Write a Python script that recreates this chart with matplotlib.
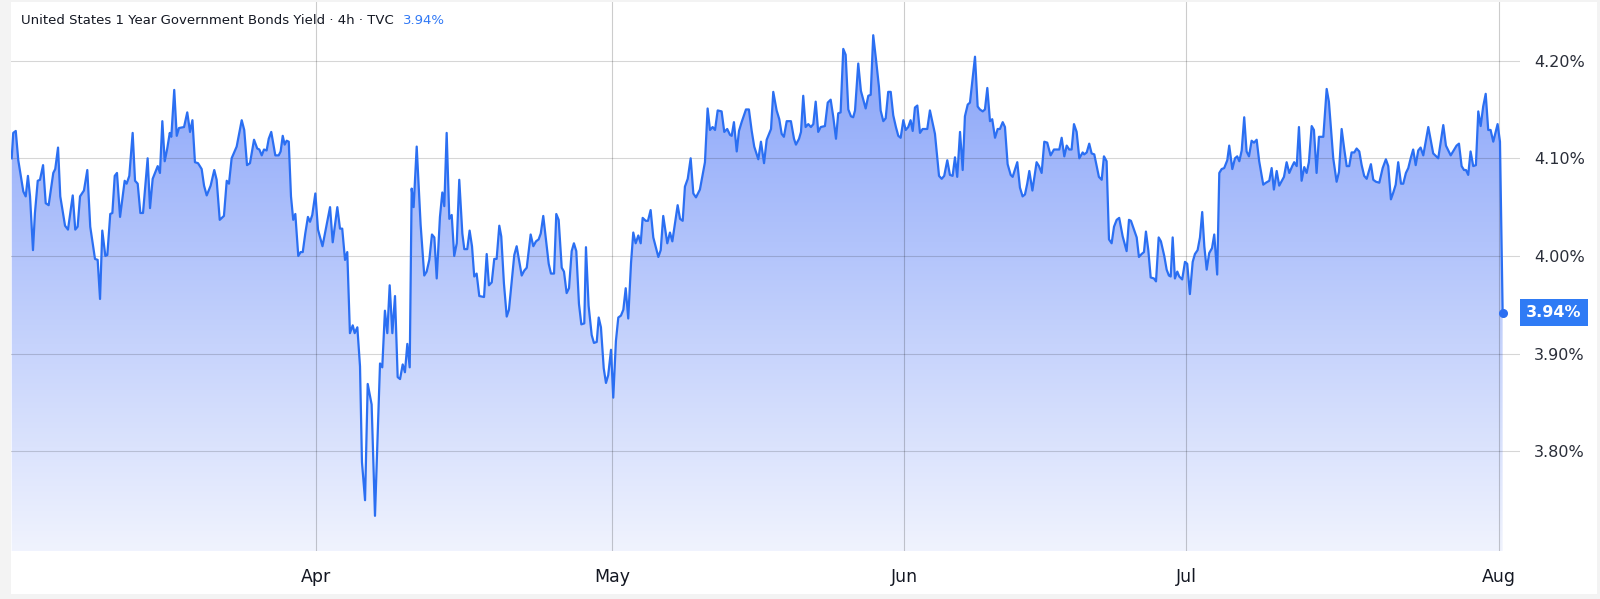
import numpy as np
import matplotlib.pyplot as plt
from matplotlib.colors import LinearSegmentedColormap
from matplotlib.patches import Rectangle

# trading days since the start of the window (4h bars)
t_days = [
    0.05, 0.16, 0.34, 0.52, 0.88, 1.05, 1.21, 1.36, 1.57, 1.71,
    1.91, 2.07, 2.29, 2.48, 2.69, 3.02, 3.16, 3.36, 3.52, 3.86,
    4.07, 4.41, 4.59, 4.76, 4.93, 5.21, 5.45, 5.66, 6.00, 6.19,
    6.36, 6.52, 6.74, 6.88, 7.09, 7.24, 7.41, 7.57, 7.79, 8.12,
    8.26, 8.45, 8.69, 8.86, 9.05, 9.24, 9.43, 9.76, 9.93, 10.12,
    10.31, 10.48, 10.64, 10.81, 10.98, 11.16, 11.34, 11.45, 11.66, 11.84,
    12.00, 12.36, 12.59, 12.79, 12.96, 13.14, 13.36, 13.62, 13.79, 13.98,
    14.26, 14.52, 14.69, 14.91, 15.21, 15.41, 15.57, 15.76, 16.12, 16.48,
    16.66, 16.86, 17.07, 17.36, 17.59, 17.74, 17.91, 18.07, 18.26, 18.41,
    18.59, 18.88, 19.12, 19.26, 19.41, 19.55, 19.69, 19.84, 20.00, 20.16,
    20.31, 20.52, 20.69, 20.84, 21.02, 21.21, 21.36, 21.52, 21.74, 21.93,
    22.25, 22.79, 22.98, 23.31, 23.50, 23.66, 23.86, 24.02, 24.21, 24.41,
    24.55, 24.74, 24.93, 25.07, 25.29, 25.48, 25.76, 26.00, 26.36, 26.52,
    26.71, 26.88, 27.05, 27.24, 27.43, 27.62, 27.79, 27.98, 28.14, 28.31,
    28.48, 28.62, 28.76, 28.98, 29.26, 29.52, 29.69, 29.88, 30.07, 30.24,
    30.41, 30.64, 30.81, 30.95, 31.12, 31.31, 31.48, 31.66, 31.84, 32.02,
    32.24, 32.38, 32.59, 32.76, 32.93, 33.09, 33.26, 33.45, 33.79, 33.98,
    34.14, 34.34, 34.52, 34.69, 34.88, 35.02, 35.21, 35.41, 35.57, 35.95,
    36.12, 36.48, 36.66, 36.84, 37.12, 37.31, 37.50, 37.69, 37.84, 38.02,
    38.21, 38.41, 38.57, 38.79, 38.95, 39.12, 39.34, 39.50, 39.69, 39.86,
    40.05, 40.21, 40.38, 40.57, 40.74, 40.95, 41.07, 41.26, 41.48, 41.64,
    41.84, 41.98, 42.14, 42.34, 42.50, 42.66, 42.86, 43.02, 43.21, 43.38,
    43.57, 43.74, 43.91, 44.09, 44.29, 44.45, 44.62, 44.81, 44.98, 45.12,
    45.34, 45.50, 45.69, 45.88, 46.24, 46.41, 46.59, 46.88, 47.07, 47.24,
    47.62, 47.79, 47.98, 48.14, 48.34, 48.55, 48.74, 48.93, 49.21, 49.57,
    49.76, 49.93, 50.12, 50.29, 50.48, 50.76, 50.95, 51.16, 51.36, 51.48,
    51.64, 51.84, 52.00, 52.19, 52.50, 52.71, 52.91, 53.09, 53.38, 53.57,
    53.79, 53.98, 54.29, 54.45, 54.69, 54.88, 55.05, 55.21, 55.41, 55.71,
    55.93, 56.07, 56.29, 56.43, 56.59, 56.76, 56.95, 57.14, 57.31, 57.48,
    57.66, 57.84, 58.14, 58.34, 58.55, 58.74, 58.93, 59.09, 59.26, 59.45,
    59.62, 59.81, 60.00, 60.16, 60.29, 60.52, 60.71, 61.05, 61.24, 61.41,
    61.59, 61.79, 62.00, 62.12, 62.31, 62.48, 62.66, 62.84, 63.02, 63.21,
    63.38, 63.55, 63.74, 63.91, 64.09, 64.26, 64.41, 64.57, 64.74, 64.93,
    65.12, 65.45, 65.64, 66.00, 66.29, 66.48, 66.66, 66.88, 67.07, 67.26,
    67.43, 67.59, 67.79, 67.98, 68.14, 68.34, 68.50, 68.66, 68.86, 69.05,
    69.21, 69.41, 69.57, 69.74, 69.93, 70.09, 70.29, 70.48, 70.64, 70.84,
    71.00, 71.19, 71.41, 71.55, 71.88, 72.07, 72.26, 72.43, 72.59, 72.74,
    72.96, 73.26, 73.43, 73.62, 73.81, 74.02, 74.26, 74.50, 74.88, 75.05,
    75.24, 75.41, 75.59, 75.76, 75.93, 76.12, 76.31, 76.55, 76.66, 76.84,
    77.02, 77.19, 77.38, 77.55, 77.71, 77.91, 78.07, 78.26, 78.43, 78.62,
    78.79, 78.98, 79.16, 79.41, 79.69, 79.86, 80.00, 80.41, 80.57, 80.76,
    80.93, 81.07, 81.24, 81.41, 81.64, 81.79, 81.98, 82.14, 82.38, 82.55,
    82.71, 82.84, 82.98, 83.14, 83.31, 83.45, 83.66, 83.86, 84.02, 84.21,
    84.41, 84.57, 84.76, 84.93, 85.09, 85.24, 85.41, 85.59, 85.79, 85.95,
    86.16, 86.31, 86.48, 86.66, 86.88, 87.02, 87.24, 87.43, 87.59, 87.74,
    87.91, 88.09, 88.26, 88.43, 88.62, 88.79, 88.98, 89.16, 89.45, 89.64,
    89.88, 90.05, 90.21, 90.41, 90.59, 90.93, 91.12, 91.31, 91.52, 91.66,
    91.84, 92.00, 92.19, 92.38, 92.55, 92.71, 92.91, 93.07, 93.26, 93.43,
    93.74, 93.98, 94.14, 94.45, 94.69, 94.86, 95.05, 95.24, 95.41, 95.59,
    95.76, 95.95, 96.12, 96.31, 96.48, 96.66, 96.84, 97.14, 97.31, 97.50,
    97.74, 97.98, 98.21, 98.38, 98.57, 98.74, 98.91, 99.09, 99.29, 99.45,
    99.64, 99.81, 99.98, 100.16, 100.34, 100.52, 100.69, 100.88, 101.24, 101.59,
    101.95, 102.31, 102.50, 102.84, 103.26, 103.43, 103.62, 103.79, 103.93, 104.09,
    104.26, 104.45, 104.64, 104.81, 104.98, 105.16, 105.34, 105.52, 105.69, 105.88,
    106.05, 106.19, 106.36, 106.55,
]

# 1Y yield in percent
yield_pct = [
    4.100, 4.126, 4.128, 4.098, 4.066, 4.061, 4.082, 4.061, 4.006, 4.044,
    4.077, 4.078, 4.093, 4.054, 4.052, 4.085, 4.089, 4.111, 4.061, 4.031,
    4.027, 4.062, 4.027, 4.030, 4.061, 4.067, 4.088, 4.030, 3.997, 3.996,
    3.956, 4.026, 4.000, 4.001, 4.043, 4.044, 4.082, 4.085, 4.040, 4.077,
    4.074, 4.082, 4.126, 4.077, 4.074, 4.044, 4.044, 4.100, 4.049, 4.079,
    4.086, 4.092, 4.085, 4.138, 4.097, 4.110, 4.126, 4.122, 4.170, 4.123,
    4.131, 4.132, 4.147, 4.127, 4.139, 4.096, 4.095, 4.089, 4.072, 4.062,
    4.072, 4.088, 4.078, 4.037, 4.041, 4.077, 4.074, 4.100, 4.112, 4.139,
    4.129, 4.093, 4.095, 4.119, 4.110, 4.109, 4.103, 4.109, 4.108, 4.120,
    4.127, 4.103, 4.103, 4.107, 4.123, 4.114, 4.118, 4.117, 4.061, 4.037,
    4.043, 4.000, 4.004, 4.004, 4.023, 4.040, 4.035, 4.042, 4.064, 4.027,
    4.010, 4.050, 4.014, 4.050, 4.028, 4.028, 3.996, 4.004, 3.921, 3.929,
    3.921, 3.927, 3.887, 3.789, 3.750, 3.869, 3.848, 3.734, 3.890, 3.886,
    3.944, 3.921, 3.970, 3.921, 3.959, 3.876, 3.874, 3.889, 3.881, 3.910,
    3.886, 4.069, 4.050, 4.112, 4.032, 3.980, 3.984, 3.996, 4.022, 4.019,
    3.977, 4.040, 4.065, 4.051, 4.126, 4.038, 4.042, 4.000, 4.013, 4.078,
    4.023, 4.007, 4.007, 4.026, 4.010, 3.979, 3.982, 3.959, 3.958, 4.002,
    3.970, 3.973, 3.997, 3.997, 4.031, 4.020, 3.972, 3.938, 3.945, 4.001,
    4.010, 3.980, 3.985, 3.988, 4.022, 4.010, 4.015, 4.017, 4.023, 4.041,
    4.017, 3.992, 3.982, 3.982, 4.043, 4.037, 3.988, 3.984, 3.962, 3.967,
    4.005, 4.013, 4.005, 3.951, 3.930, 3.931, 4.009, 3.949, 3.919, 3.911,
    3.912, 3.937, 3.927, 3.885, 3.870, 3.878, 3.904, 3.855, 3.913, 3.937,
    3.939, 3.945, 3.967, 3.936, 3.993, 4.024, 4.013, 4.021, 4.013, 4.039,
    4.036, 4.036, 4.047, 4.019, 3.999, 4.006, 4.041, 4.013, 4.024, 4.015,
    4.052, 4.038, 4.036, 4.071, 4.079, 4.100, 4.064, 4.060, 4.068, 4.096,
    4.151, 4.129, 4.132, 4.129, 4.149, 4.148, 4.127, 4.130, 4.124, 4.123,
    4.137, 4.107, 4.128, 4.137, 4.150, 4.150, 4.128, 4.112, 4.099, 4.117,
    4.095, 4.119, 4.130, 4.168, 4.149, 4.140, 4.125, 4.122, 4.138, 4.138,
    4.120, 4.114, 4.120, 4.127, 4.164, 4.132, 4.135, 4.132, 4.135, 4.158,
    4.127, 4.132, 4.133, 4.157, 4.160, 4.142, 4.120, 4.146, 4.147, 4.212,
    4.206, 4.150, 4.143, 4.142, 4.149, 4.197, 4.169, 4.151, 4.164, 4.165,
    4.226, 4.201, 4.173, 4.149, 4.138, 4.141, 4.168, 4.168, 4.144, 4.132,
    4.123, 4.121, 4.139, 4.129, 4.132, 4.139, 4.128, 4.152, 4.154, 4.126,
    4.130, 4.130, 4.149, 4.125, 4.082, 4.079, 4.082, 4.098, 4.083, 4.082,
    4.101, 4.081, 4.127, 4.088, 4.143, 4.155, 4.157, 4.178, 4.204, 4.153,
    4.150, 4.148, 4.150, 4.172, 4.138, 4.140, 4.121, 4.130, 4.130, 4.137,
    4.132, 4.094, 4.083, 4.081, 4.096, 4.070, 4.061, 4.063, 4.074, 4.087,
    4.067, 4.096, 4.092, 4.085, 4.117, 4.116, 4.103, 4.109, 4.109, 4.121,
    4.102, 4.113, 4.109, 4.109, 4.135, 4.127, 4.100, 4.106, 4.104, 4.106,
    4.115, 4.105, 4.104, 4.092, 4.081, 4.078, 4.102, 4.097, 4.017, 4.013,
    4.030, 4.037, 4.039, 4.020, 4.005, 4.037, 4.036, 4.019, 3.999, 4.002,
    4.004, 4.025, 4.006, 3.978, 3.977, 3.974, 4.019, 4.015, 4.000, 3.986,
    3.980, 3.979, 4.019, 3.977, 3.984, 3.979, 3.976, 3.994, 3.992, 3.961,
    3.994, 4.002, 4.006, 4.019, 4.045, 4.010, 3.986, 4.003, 4.008, 4.022,
    3.981, 4.085, 4.089, 4.090, 4.098, 4.113, 4.089, 4.100, 4.102, 4.097,
    4.108, 4.142, 4.107, 4.102, 4.118, 4.116, 4.119, 4.097, 4.073, 4.075,
    4.077, 4.090, 4.068, 4.087, 4.072, 4.081, 4.096, 4.085, 4.092, 4.096,
    4.092, 4.132, 4.077, 4.091, 4.085, 4.096, 4.133, 4.129, 4.085, 4.122,
    4.122, 4.171, 4.158, 4.100, 4.076, 4.086, 4.130, 4.109, 4.092, 4.092,
    4.106, 4.106, 4.110, 4.107, 4.093, 4.082, 4.079, 4.094, 4.078, 4.076,
    4.075, 4.090, 4.099, 4.092, 4.058, 4.065, 4.073, 4.096, 4.074, 4.074,
    4.085, 4.090, 4.100, 4.109, 4.093, 4.108, 4.111, 4.103, 4.132, 4.105,
    4.100, 4.134, 4.113, 4.103, 4.113, 4.115, 4.092, 4.088, 4.088, 4.083,
    4.107, 4.092, 4.093, 4.148, 4.133, 4.153, 4.166, 4.129, 4.129, 4.117,
    4.127, 4.135, 4.117, 3.942,
]

month_labels = ["Apr", "May", "Jun", "Jul", "Aug"]
month_pos = [21.79, 42.93, 63.79, 83.93, 106.29]
y_ticks = [3.80, 3.90, 4.00, 4.10, 4.20]

title = "United States 1 Year Government Bonds Yield \u00b7 4h \u00b7 TVC"
last_value = yield_pct[-1]

assert len(t_days) == len(yield_pct)

LINE = "#2b6ff2"
W, H = 1600, 599

fig = plt.figure(figsize=(W / 100, H / 100), dpi=100, facecolor="#f3f3f3")
fig.patches.append(Rectangle((11 / W, 5 / H), 1586 / W, 592 / H, transform=fig.transFigure,
                             facecolor="white", edgecolor="none", zorder=-10))

ax = fig.add_axes([11 / W, 48 / H, 1509 / W, 549 / H])
ax.set_zorder(1)
ax.set_facecolor("none")
ymin, ymax = 3.698, 4.26
ax.set_xlim(0, 107.79)
ax.set_ylim(ymin, ymax)

# gradient area under the line
poly = ax.fill_between(t_days, yield_pct, ymin, facecolor="none", edgecolor="none")
cmap = LinearSegmentedColormap.from_list("area", ["#f0f3fe", "#87a3f9"])
grad = np.linspace(0, 1, 256).reshape(-1, 1)
im = ax.imshow(grad, cmap=cmap, aspect="auto", origin="lower",
               extent=[0, 107.79, ymin, max(yield_pct)], zorder=1)
im.set_clip_path(poly.get_paths()[0], transform=ax.transData)

ax.plot(t_days, yield_pct, color=LINE, lw=1.6, zorder=4, solid_joinstyle="round")
ax.plot(t_days[-1], last_value, "o", ms=5.5, color=LINE, zorder=5)

for v in y_ticks:
    ax.axhline(v, color="black", alpha=0.16, lw=0.8, zorder=3)
for m in month_pos:
    ax.axvline(m, color="black", alpha=0.2, lw=0.8, zorder=3)

for s in ax.spines.values():
    s.set_visible(False)

ax.yaxis.tick_right()
ax.set_yticks(y_ticks)
ax.set_yticklabels([f"{v:.2f}%" for v in y_ticks])
ax.set_xticks(month_pos)
ax.set_xticklabels(month_labels)
ax.tick_params(axis="y", length=0, pad=10, labelsize=11.5, labelcolor="#2a2e39")
ax.tick_params(axis="x", length=0, pad=12, labelsize=12.5, labelcolor="#131722")

# last value badge on the price scale
tr = ax.get_yaxis_transform()
ax.add_patch(Rectangle((1.0, last_value - 0.0138), 68 / 1509, 0.0276, transform=tr,
                       facecolor="#2f7bf5", edgecolor="none", clip_on=False, zorder=6))
ax.text(1.0 + 34 / 1509, last_value, f"{last_value:.2f}%", transform=tr, ha="center",
        va="center", color="white", fontsize=11.5, fontweight="bold", zorder=7)

fig.text(21 / W, 1 - 20 / H, title, fontsize=9.5, color="#131722", va="center")
fig.text(403 / W, 1 - 20 / H, f"{last_value:.2f}%", fontsize=9.5, color="#3179f5", va="center")

fig.savefig("out.png", dpi=100, facecolor=fig.get_facecolor())
